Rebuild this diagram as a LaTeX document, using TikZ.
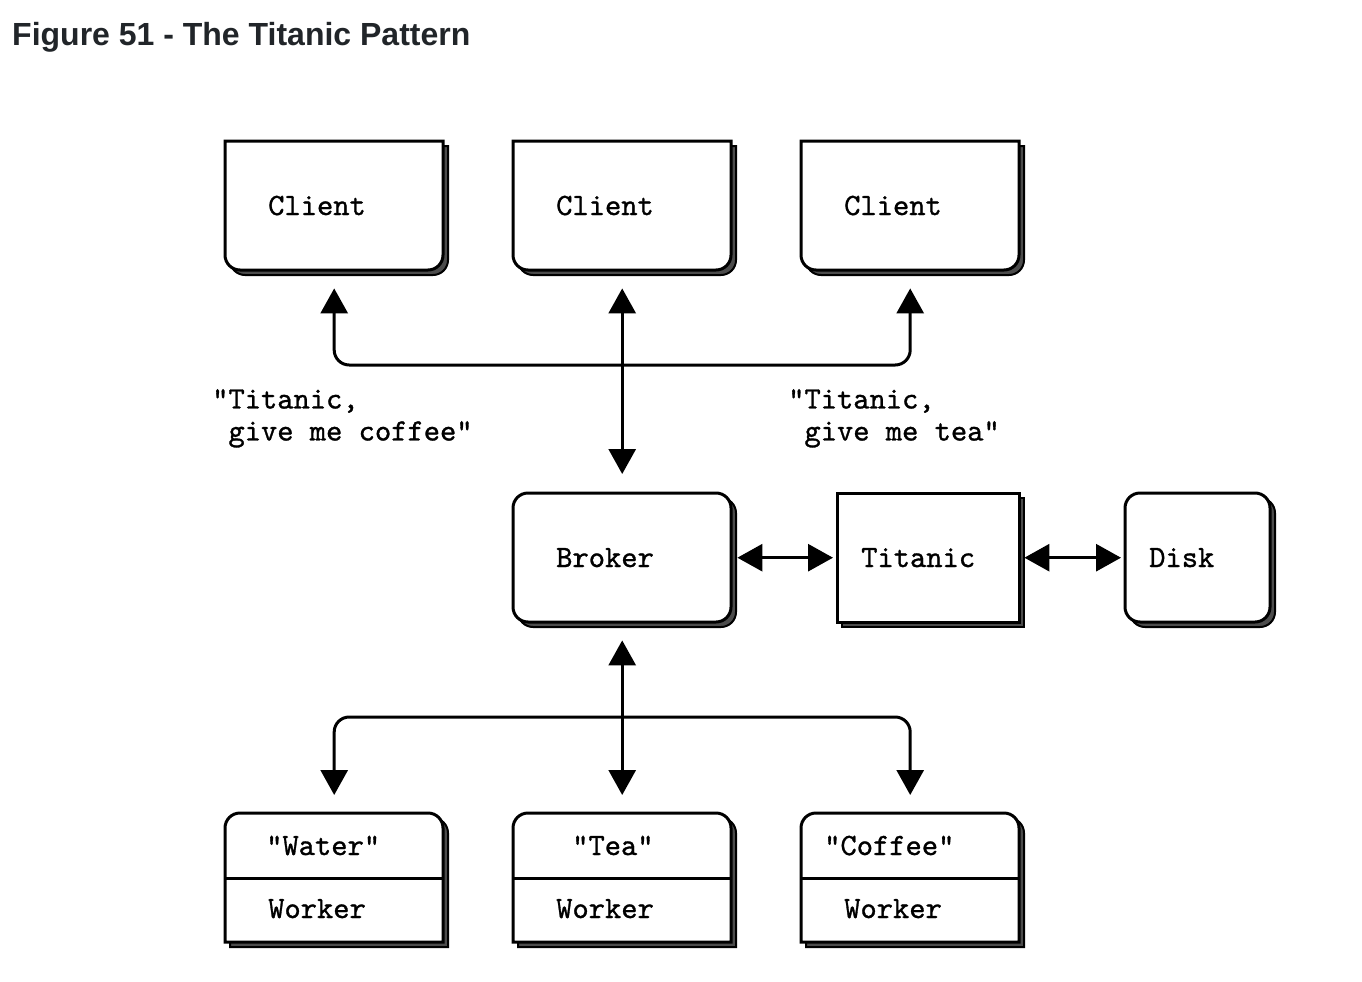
\documentclass[tikz,border=0pt]{standalone}
\usepackage{fontspec}
\newfontfamily\titlefont{Liberation Sans}
\newfontfamily\boxfont{lmmono10-regular.otf}[FakeBold=1]
\usetikzlibrary{arrows.meta}
\definecolor{titleink}{HTML}{212529}
\newcommand\clientpath[2]{(#1,#2) -- (#1+218,#2) -- (#1+218,#2+114) .. controls +(0,8.3) and +(8.3,0) .. (#1+203,#2+129) -- (#1+15,#2+129) .. controls +(-8.3,0) and +(0,8.3) .. (#1,#2+114) -- cycle}
\newcommand\workerpath[2]{(#1,#2+129) -- (#1,#2+15) .. controls +(0,-8.3) and +(-8.3,0) .. (#1+15,#2) -- (#1+203,#2) .. controls +(8.3,0) and +(0,-8.3) .. (#1+218,#2+15) -- (#1+218,#2+129) -- cycle}

\begin{document}
\begin{tikzpicture}[x=1pt,y=-1pt,
  mainbox/.style={draw=black,line width=3pt,fill=white},
  shadowbox/.style={draw=black,line width=2pt,fill=black!70},
  spot/.style={inner sep=0pt,minimum height=129pt,anchor=north west},
  tag/.style={inner sep=0pt,anchor=base west,font=\boxfont\fontsize{31}{32}\selectfont},
  link/.style={line width=3pt,-{Triangle[length=25pt,width=27pt]}},
  twoway/.style={line width=3pt,{Triangle[length=25pt,width=27pt]}-{Triangle[length=25pt,width=27pt]}}]
  \fill[white] (0,0) rectangle (1362,982);
  \useasboundingbox (0,0) rectangle (1362,982);
  \node[anchor=base west,inner sep=0pt,text=titleink,font=\titlefont\bfseries\fontsize{32}{38}\selectfont] (title) at (12,46) {Figure 51 - The Titanic Pattern};

  \draw[shadowbox] \clientpath{230}{146};
  \draw[mainbox] \clientpath{225}{141};
  \node[spot,minimum width=218pt] (c1) at (225,141) {};
  \draw[shadowbox] \clientpath{518}{146};
  \draw[mainbox] \clientpath{513}{141};
  \node[spot,minimum width=218pt] (c2) at (513,141) {};
  \draw[shadowbox] \clientpath{806}{146};
  \draw[mainbox] \clientpath{801}{141};
  \node[spot,minimum width=218pt] (c3) at (801,141) {};
  \node[tag] (c1text) at (268,215) {Client};
  \node[tag] (c2text) at (556,215) {Client};
  \node[tag] (c3text) at (844,215) {Client};

  \draw[shadowbox,rounded corners=15pt] (518,498) rectangle +(218,129);
  \draw[mainbox,rounded corners=15pt] (513,493) rectangle +(218,129);
  \node[spot,minimum width=218pt] (broker) at (513,493) {};
  \draw[shadowbox] (842,498) rectangle +(182,129);
  \draw[mainbox] (837,493) rectangle +(182,129);
  \node[spot,minimum width=182pt] (titanic) at (837,493) {};
  \draw[shadowbox,rounded corners=15pt] (1130,498) rectangle +(145,129);
  \draw[mainbox,rounded corners=15pt] (1125,493) rectangle +(145,129);
  \node[spot,minimum width=145pt] (disk) at (1125,493) {};
  \node[tag] (brokertext) at (556,567) {Broker};
  \node[tag] (titanictext) at (861,567) {Titanic};
  \node[tag] (disktext) at (1149,567) {Disk};

  \draw[shadowbox] \workerpath{230}{818};
  \draw[mainbox] \workerpath{225}{813};
  \draw[mainbox] (225,878) -- (443,878);
  \node[spot,minimum width=218pt] (w1) at (225,813) {};
  \draw[shadowbox] \workerpath{518}{818};
  \draw[mainbox] \workerpath{513}{813};
  \draw[mainbox] (513,878) -- (731,878);
  \node[spot,minimum width=218pt] (w2) at (513,813) {};
  \draw[shadowbox] \workerpath{806}{818};
  \draw[mainbox] \workerpath{801}{813};
  \draw[mainbox] (801,878) -- (1019,878);
  \node[spot,minimum width=218pt] (w3) at (801,813) {};
  \node[tag] (w1service) at (266,855) {"Water"};
  \node[tag] (w2service) at (572,855) {"Tea"};
  \node[tag] (w3service) at (824,855) {"Coffee"};
  \node[tag] (w1text) at (268,918) {Worker};
  \node[tag] (w2text) at (556,918) {Worker};
  \node[tag] (w3text) at (844,918) {Worker};

  \node[tag,anchor=north west,align=left] (coffeenote) at (212,389) {"Titanic,\\\hphantom{"}give me coffee"};
  \node[tag,anchor=north west,align=left] (teanote) at (788,389) {"Titanic,\\\hphantom{"}give me tea"};

  \coordinate (clientbar) at (622,365);
  \coordinate (workerbar) at (622,717);
  \draw[link,rounded corners=15pt,shorten >=18pt] (clientbar) -| (c1);
  \draw[link,rounded corners=15pt,shorten >=18pt] (clientbar) -| (c3);
  \draw[twoway,shorten <=18pt,shorten >=19pt] (c2) -- (broker);
  \draw[twoway,shorten <=18pt,shorten >=18pt] (broker) -- (w2);
  \draw[link,rounded corners=15pt,shorten >=18pt] (workerbar) -| (w1);
  \draw[link,rounded corners=15pt,shorten >=18pt] (workerbar) -| (w3);
  \draw[twoway,shorten <=6pt,shorten >=4pt] (broker) -- (titanic);
  \draw[twoway,shorten <=5pt,shorten >=4pt] (titanic) -- (disk);
\end{tikzpicture}
\end{document}
